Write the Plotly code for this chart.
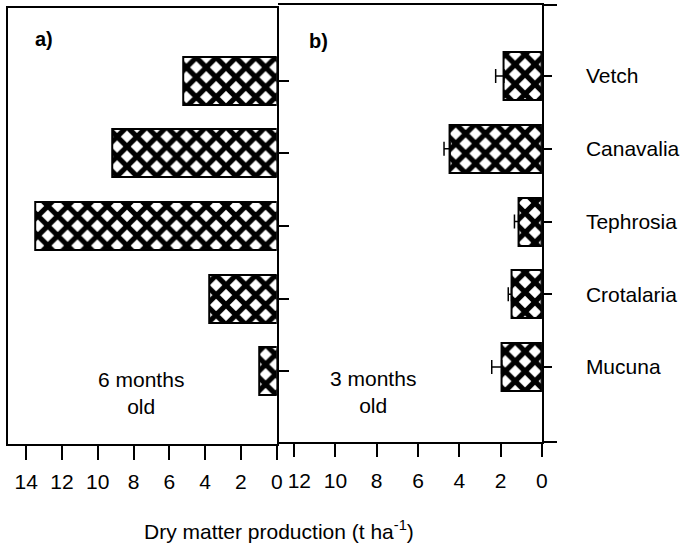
import plotly.graph_objects as go

# Dry matter production of cover crops (t/ha)
species = ["Mucuna", "Crotalaria", "Tephrosia", "Canavalia", "Vetch"]
dm_6_months = [1.0, 3.8, 13.5, 9.2, 5.25]
dm_3_months = [1.95, 1.47, 1.13, 4.45, 1.84]
err_3_months = [0.48, 0.16, 0.20, 0.29, 0.40]
ticks_6_months = [0, 2, 4, 6, 8, 10, 12, 14]
ticks_3_months = [0, 2, 4, 6, 8, 10, 12]
# the leftmost label of panel b is nudged away from panel a's "0"
ticktext_3_months = ["0", "2", "4", "6", "8", "10", "\u200212"]

positions = list(range(len(species)))
FONT = "Liberation Sans, Arial, sans-serif"
W, H = 687, 543

hatch = dict(shape="x", fgcolor="black", bgcolor="white", fgopacity=1,
             fillmode="replace", size=14, solidity=0.6)

fig = go.Figure()

fig.add_trace(go.Bar(
    x=dm_6_months, y=positions, orientation="h", width=0.66,
    xaxis="x", yaxis="y",
    marker=dict(color="white", line=dict(color="black", width=2), pattern=hatch),
))

fig.add_trace(go.Bar(
    x=dm_3_months, y=positions, orientation="h", width=0.66,
    xaxis="x2", yaxis="y2",
    marker=dict(color="white", line=dict(color="black", width=2), pattern=hatch),
    error_x=dict(type="data", symmetric=False, array=err_3_months,
                 arrayminus=[0] * len(err_3_months),
                 color="black", thickness=1.5, width=7),
))

axis_common = dict(showline=True, linecolor="black", linewidth=1.5,
                   showgrid=False, zeroline=False,
                   tickfont=dict(family=FONT, size=21, color="black"),
                   tickcolor="black", tickwidth=1.5)

y_range_a = [-1.0, 5.0]
y_range_b = [-1.024, 4.976]

fig.update_layout(
    width=W, height=H,
    margin=dict(l=0, r=0, t=0, b=0),
    paper_bgcolor="white", plot_bgcolor="white",
    showlegend=False, bargap=0,
    font=dict(family=FONT, size=21, color="black"),
    xaxis=dict(domain=[8.3 / W, 279.2 / W], range=[15.0, 0], anchor="y",
               tickmode="array", tickvals=ticks_6_months, mirror=True,
               ticks="outside", ticklen=14, ticklabelstandoff=4, **axis_common),
    yaxis=dict(domain=[1 - 444 / H, 1 - 8 / H], range=y_range_a, anchor="x",
               side="right", tickmode="array", tickvals=positions, mirror=True,
               ticks="outside", ticklen=10, showticklabels=False, **axis_common),
    xaxis2=dict(domain=[280 / W, 546.7 / W], range=[12.8, 0], anchor="y2",
                tickmode="array", tickvals=ticks_3_months, ticktext=ticktext_3_months,
                mirror=True, ticks="outside", ticklen=14, ticklabelstandoff=6,
                **axis_common),
    yaxis2=dict(domain=[1 - 441.5 / H, 1 - 5 / H], range=y_range_b, anchor="x2",
                side="right", tickmode="array", tickvals=positions, ticktext=species,
                mirror=False, ticks="outside", ticklen=8, ticklabelstandoff=30,
                minor=dict(tickmode="array", tickvals=y_range_b, ticks="outside",
                           ticklen=13, tickcolor="black", tickwidth=2),
                **axis_common),
)

annotations = [
    dict(text="<b>a)</b>", xref="paper", yref="paper", x=33 / W, y=1 - 39 / H,
         xanchor="left", yanchor="middle", showarrow=False, font=dict(size=20)),
    dict(text="<b>b)</b>", xref="paper", yref="paper", x=310 / W, y=1 - 41 / H,
         xanchor="left", yanchor="middle", showarrow=False, font=dict(size=20)),
    dict(text="6 months<br>old", xref="x", yref="y", x=7.6, y=-0.30,
         xanchor="center", yanchor="middle", showarrow=False, align="center",
         font=dict(size=21)),
    dict(text="3 months<br>old", xref="x2", yref="y2", x=8.2, y=-0.347,
         xanchor="center", yanchor="middle", showarrow=False, align="center",
         font=dict(size=21)),
    dict(text="Dry matter production (t ha<sup>-1</sup>)", xref="paper", yref="paper",
         x=281 / W, y=1 - 530 / H, xanchor="center", yanchor="middle",
         showarrow=False, font=dict(size=21)),
]
fig.update_layout(annotations=annotations)

fig.write_html("out.html")
